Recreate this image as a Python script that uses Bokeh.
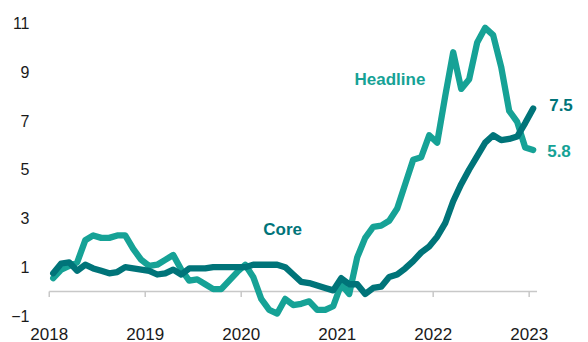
from bokeh.plotting import figure
from bokeh.models import FixedTicker, Label, Range1d
from bokeh.embed import file_html
from bokeh.resources import INLINE
import numpy as np

# ---- data (monthly, Jan 2018 .. Jan 2023) ----
start_year = 2018
headline = [0.55, 0.9, 1.05, 1.2, 2.1, 2.3, 2.2, 2.2, 2.3, 2.3,
            1.75, 1.3, 1.05, 1.1, 1.3, 1.5, 0.9, 0.45, 0.5, 0.3,
            0.1, 0.1, 0.45, 0.8, 1.1, 0.6, -0.3, -0.75, -0.9, -0.3,
            -0.55, -0.5, -0.4, -0.75, -0.75, -0.6, 0.3, -0.1, 1.4, 2.2,
            2.65, 2.7, 2.9, 3.4, 4.4, 5.4, 5.5, 6.4, 6.1, 8.0,
            9.8, 8.3, 8.7, 10.2, 10.8, 10.5, 9.2, 7.4, 6.95, 5.9,
            5.8]
core = [0.75, 1.15, 1.2, 0.85, 1.1, 0.95, 0.85, 0.75, 0.8, 1.0,
        0.95, 0.9, 0.85, 0.7, 0.75, 0.9, 0.7, 0.95, 0.95, 0.95,
        1.0, 1.0, 1.0, 1.0, 1.0, 1.1, 1.1, 1.1, 1.1, 1.0,
        0.7, 0.4, 0.35, 0.25, 0.15, 0.05, 0.55, 0.3, 0.3, -0.1,
        0.15, 0.2, 0.6, 0.7, 0.95, 1.25, 1.6, 1.85, 2.25, 2.8,
        3.7, 4.4, 5.0, 5.55, 6.1, 6.4, 6.2, 6.25, 6.35, 6.9,
        7.5]
year_ticks = [2018, 2019, 2020, 2021, 2022, 2023]
y_ticks = [-1, 1, 3, 5, 7, 9, 11]
series_names = ["Headline", "Core"]

HEAD_COLOR = "#16A296"
CORE_COLOR = "#007479"
FONT = "Liberation Sans"

x = start_year + (np.arange(len(headline)) + 0.5) / 12.0

p = figure(width=588, height=342, output_backend="svg", toolbar_location=None,
           x_range=Range1d(2017.909, 2023.618), y_range=Range1d(-1.143, 11.92),
           min_border_left=40, min_border_right=0, min_border_top=0, min_border_bottom=22)
p.outline_line_color = None
p.xgrid.visible = False
p.ygrid.visible = False
p.background_fill_color = "white"
p.border_fill_color = "white"

# axes
p.yaxis.ticker = FixedTicker(ticks=y_ticks)
p.yaxis.axis_line_color = None
p.yaxis.major_tick_line_color = None
p.yaxis.minor_tick_line_color = None
p.yaxis.major_label_standoff = 5
p.yaxis.major_label_text_font = FONT
p.yaxis.major_label_text_font_size = "16px"
p.yaxis.major_label_text_color = "#1a1a1a"

p.xaxis.ticker = FixedTicker(ticks=year_ticks)
p.xaxis.axis_line_color = None
p.xaxis.major_tick_line_color = None
p.xaxis.minor_tick_line_color = None
p.xaxis.major_label_standoff = 2
p.xaxis.major_label_text_font = FONT
p.xaxis.major_label_text_font_size = "17px"
p.xaxis.major_label_text_color = "#1a1a1a"

# zero line with year ticks
p.line([year_ticks[0], x[-1] + 0.04], [0, 0], line_color="#c8c8c8", line_width=1.5)
p.segment(x0=year_ticks, y0=[0] * len(year_ticks), x1=year_ticks, y1=[-0.22] * len(year_ticks),
          line_color="#c8c8c8", line_width=1.5)

# series
p.line(x, headline, line_color=HEAD_COLOR, line_width=6.3, line_join="round", line_cap="round")
p.line(x, core, line_color=CORE_COLOR, line_width=6.3, line_join="round", line_cap="round")

# annotations
label_style = dict(text_font=FONT, text_font_style="bold", text_font_size="17px",
                   text_baseline="middle")
p.add_layout(Label(x=2021.18, y=8.69, text=series_names[0], text_color=HEAD_COLOR, **label_style))
p.add_layout(Label(x=2020.23, y=2.53, text=series_names[1], text_color=CORE_COLOR, **label_style))
p.add_layout(Label(x=x[-1], y=core[-1], x_offset=16, y_offset=3, text=f"{core[-1]:.1f}",
                   text_color=CORE_COLOR, **label_style))
p.add_layout(Label(x=x[-1], y=headline[-1], x_offset=14, y_offset=-1, text=f"{headline[-1]:.1f}",
                   text_color=HEAD_COLOR, **label_style))

open("out.html", "w").write(file_html(p, INLINE))
